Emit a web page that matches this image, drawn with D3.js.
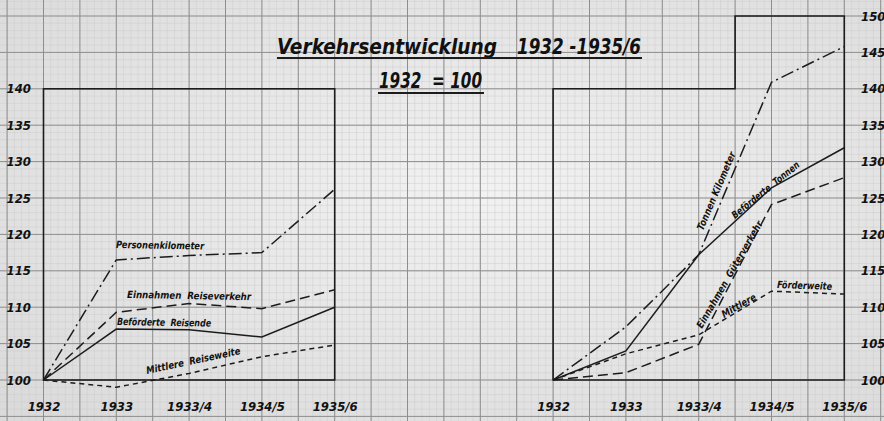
<!DOCTYPE html>
<html>
<head>
<meta charset="utf-8">
<script src="https://cdn.jsdelivr.net/npm/d3@7"></script>
<style>
  body { margin: 0; background: #e6e6e6; }
  svg { display: block; }
  .hand { font-family: "DejaVu Sans Condensed", "DejaVu Sans", sans-serif; font-style: italic; fill: #111; white-space: pre; }
</style>
</head>
<body>
<script>

//--------------------------------------
// Data
//--------------------------------------

var periods = ["1932", "1933", "1933/4", "1934/5", "1935/6"];

// left panel: passenger traffic (1932 = 100)
var personenKilometer   = [100, 116.5, 117.1, 117.5, 126.2];
var einnahmenReise      = [100, 109.3, 110.5, 109.8, 112.4];
var befoerderteReisende = [100, 107.0, 106.9, 105.9, 110.0];
var mittlereReiseweite  = [100,  99.0, 100.9, 103.2, 104.8];

// right panel: goods traffic (1932 = 100)
var tonnenKilometer      = [100, 107.3, 117.2, 140.9, 145.8];
var befoerderteTonnen    = [100, 104.0, 117.2, 126.4, 131.9];
var einnahmenGueter      = [100, 101.0, 104.9, 124.1, 127.8];
var mittlereFoerderweite = [100, 103.6, 106.2, 112.2, 111.8];

var leftTicks  = [100, 105, 110, 115, 120, 125, 130, 135, 140];
var rightTicks = [100, 105, 110, 115, 120, 125, 130, 135, 140, 145, 150];

var W = 884, H = 421;
var step = 36.4;           // one major square of the graph paper
var gx0 = 43.5, gy0 = 380; // a major grid crossing (1932 / 100 of left panel)

var dash = {
  dashdot: "13,4,2,4",
  dashed: "10,5",
  solid: null,
  dotted: "5,4"
};

var svg = d3.select("body").append("svg")
  .attr("width", W)
  .attr("height", H);

//--------------------------------------
// Paper background & grid
//--------------------------------------

var defs = svg.append("defs");
var grad = defs.append("radialGradient").attr("id", "paper")
  .attr("cx", "55%").attr("cy", "45%").attr("r", "75%");
grad.append("stop").attr("offset", "0%").attr("stop-color", "#f2f2f2");
grad.append("stop").attr("offset", "100%").attr("stop-color", "#dadada");

svg.append("rect")
  .attr("width", W).attr("height", H)
  .attr("fill", "url(#paper)");

function gridLines(origin, max, s) {
  var out = [];
  var v = origin - Math.floor(origin / s) * s;
  for (; v <= max; v += s) out.push(v);
  return out;
}

var grid = svg.append("g").attr("class", "grid");
var minor = step / 5;

function vLines(data, color, width) {
  grid.append("g").selectAll("line")
    .data(data)
    .enter().append("line")
    .attr("x1", function(d) { return d; }).attr("x2", function(d) { return d; })
    .attr("y1", 0).attr("y2", H)
    .attr("stroke", color).attr("stroke-width", width);
}

function hLines(data, color, width) {
  grid.append("g").selectAll("line")
    .data(data)
    .enter().append("line")
    .attr("y1", function(d) { return d; }).attr("y2", function(d) { return d; })
    .attr("x1", 0).attr("x2", W)
    .attr("stroke", color).attr("stroke-width", width);
}

vLines(gridLines(gx0, W, minor), "#cdcdcd", 0.5);
hLines(gridLines(gy0, H, minor), "#cdcdcd", 0.5);
vLines(gridLines(gx0, W, step), "#8e8e8e", 1);
hLines(gridLines(gy0, H, step), "#8e8e8e", 1);

//--------------------------------------
// Scales
//--------------------------------------

var xL = d3.scalePoint().domain(periods).range([gx0, gx0 + 8 * step]);
var yL = d3.scaleLinear().domain([100, 140]).range([gy0, gy0 - 8 * step]);

var xR = d3.scalePoint().domain(periods).range([gx0 + 14 * step, gx0 + 22 * step]);
var yR = d3.scaleLinear().domain([100, 150]).range([gy0, gy0 - 10 * step]);

//--------------------------------------
// Frames
//--------------------------------------

var ink = "#1c1c1c";

svg.append("rect")
  .attr("x", xL("1932")).attr("y", yL(140))
  .attr("width", xL("1935/6") - xL("1932"))
  .attr("height", yL(100) - yL(140))
  .attr("fill", "none").attr("stroke", ink).attr("stroke-width", 1.6);

var frameR = [
  [xR("1932"), yR(100)], [xR("1932"), yR(140)],
  [xR("1934/5") - step, yR(140)], [xR("1934/5") - step, yR(150)],
  [xR("1935/6"), yR(150)], [xR("1935/6"), yR(100)]
];
svg.append("path")
  .attr("d", d3.line()(frameR) + "Z")
  .attr("fill", "none").attr("stroke", ink).attr("stroke-width", 1.6);

//--------------------------------------
// Axes (tick labels only)
//--------------------------------------

function styleAxis(g) {
  g.select(".domain").remove();
  g.selectAll(".tick line").remove();
  g.selectAll("text")
    .attr("class", "hand")
    .attr("font-size", 13)
    .attr("font-weight", "bold")
    .attr("fill", "#111");
}

svg.append("g")
  .attr("transform", "translate(31,0)")
  .call(d3.axisLeft(yL).tickValues(leftTicks).tickSize(0).tickPadding(0))
  .call(styleAxis);

svg.append("g")
  .attr("transform", "translate(861,0)")
  .call(d3.axisRight(yR).tickValues(rightTicks).tickSize(0).tickPadding(0))
  .call(styleAxis);

svg.append("g")
  .attr("transform", "translate(0,402)")
  .call(d3.axisBottom(xL).tickSize(0).tickPadding(0))
  .call(styleAxis);

svg.append("g")
  .attr("transform", "translate(0,402)")
  .call(d3.axisBottom(xR).tickSize(0).tickPadding(0))
  .call(styleAxis);

//--------------------------------------
// Series
//--------------------------------------

var leftSeries = [
  { values: personenKilometer, style: "dashdot" },
  { values: einnahmenReise, style: "dashed" },
  { values: befoerderteReisende, style: "solid" },
  { values: mittlereReiseweite, style: "dotted" }
];

var rightSeries = [
  { values: tonnenKilometer, style: "dashdot" },
  { values: befoerderteTonnen, style: "solid" },
  { values: einnahmenGueter, style: "dashed" },
  { values: mittlereFoerderweite, style: "dotted" }
];

function drawSeries(series, x, y) {
  var line = d3.line()
    .x(function(d, i) { return x(periods[i]); })
    .y(function(d) { return y(d); });
  svg.append("g").selectAll("path")
    .data(series)
    .enter().append("path")
    .attr("d", function(d) { return line(d.values); })
    .attr("fill", "none")
    .attr("stroke", ink)
    .attr("stroke-width", 1.5)
    .attr("stroke-dasharray", function(d) { return dash[d.style]; });
}

drawSeries(leftSeries, xL, yL);
drawSeries(rightSeries, xR, yR);

//--------------------------------------
// Series labels
//--------------------------------------

var labels = [
  { text: "Personenkilometer", x: 116, y: 248, rot: 1, len: 88 },
  { text: "Einnahmen  Reiseverkehr", x: 127, y: 298, rot: 1, len: 124 },
  { text: "Beförderte  Reisende", x: 117, y: 325, rot: 1, len: 94 },
  { text: "Mittlere  Reiseweite", x: 147, y: 374, rot: -12, len: 96 },
  { text: "Tonnen Kilometer", x: 703, y: 231, rot: -67, len: 84 },
  { text: "Beförderte  Tonnen", x: 735, y: 219, rot: -39, len: 84 },
  { text: "Einnahmen  Güterverkehr", x: 702, y: 329, rot: -60, len: 122 },
  { text: "Mittlere", x: 724, y: 318, rot: -30, len: 38 },
  { text: "Förderweite", x: 777, y: 288, rot: 2, len: 55 }
];

svg.append("g").selectAll("text")
  .data(labels)
  .enter().append("text")
  .attr("class", "hand")
  .attr("font-size", 10)
  .attr("font-weight", "bold")
  .attr("textLength", function(d) { return d.len; })
  .attr("lengthAdjust", "spacingAndGlyphs")
  .attr("transform", function(d) { return "translate(" + d.x + "," + d.y + ") rotate(" + d.rot + ")"; })
  .text(function(d) { return d.text; });

//--------------------------------------
// Title
//--------------------------------------

var titleParts = [
  { text: "Verkehrsentwicklung", x: 277, y: 54, len: 220 },
  { text: "1932 -1935/6", x: 517, y: 54, len: 124 },
  { text: "1932  = 100", x: 379, y: 88, len: 103 }
];

var title = svg.append("g");
title.selectAll("text")
  .data(titleParts)
  .enter().append("text")
  .attr("class", "hand")
  .attr("x", function(d) { return d.x; })
  .attr("y", function(d) { return d.y; })
  .attr("font-size", 21)
  .attr("font-weight", "bold")
  .attr("textLength", function(d) { return d.len; })
  .attr("lengthAdjust", "spacingAndGlyphs")
  .text(function(d) { return d.text; });

title.append("line")
  .attr("x1", 277).attr("x2", 642).attr("y1", 58).attr("y2", 58)
  .attr("stroke", ink).attr("stroke-width", 2.2);
title.append("line")
  .attr("x1", 378).attr("x2", 484).attr("y1", 93).attr("y2", 93)
  .attr("stroke", ink).attr("stroke-width", 2.2);

</script>
</body>
</html>
